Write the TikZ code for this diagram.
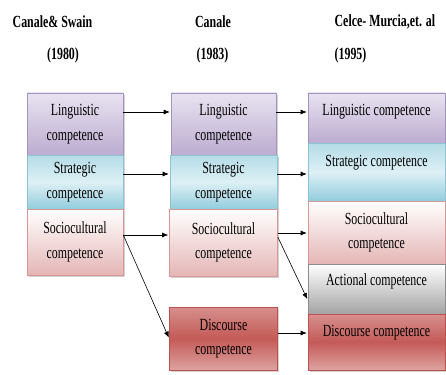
\documentclass[tikz,border=0pt]{standalone}
\usepackage{fontspec}
\setmainfont{Liberation Serif}[FakeStretch=0.7]
\usetikzlibrary{arrows.meta,positioning,shadows}

\definecolor{lingtop}{HTML}{E8E3F0}
\definecolor{lingbot}{HTML}{BCACD1}
\definecolor{lingline}{HTML}{A393BE}
\definecolor{strattop}{HTML}{B4DCE7}
\definecolor{stratmid}{HTML}{DDF0F5}
\definecolor{stratbot}{HTML}{93CDDD}
\definecolor{stratline}{HTML}{8CC4D4}
\definecolor{sociobot}{HTML}{E4B6B5}
\definecolor{socioline}{HTML}{D99694}
\definecolor{actbot}{HTML}{A3A3A3}
\definecolor{actline}{HTML}{8C8C8C}
\definecolor{disctop}{HTML}{D6908E}
\definecolor{discmid}{HTML}{C45A57}
\definecolor{discbot}{HTML}{DDA3A1}
\definecolor{discline}{HTML}{C0504D}

\tikzset{
  box/.style={draw, align=center, inner sep=3pt,
    drop shadow={shadow xshift=1.5pt, shadow yshift=-2pt, opacity=.35}},
  ling/.style={box, draw=lingline, top color=lingtop, bottom color=lingbot},
  strat/.style={box, draw=stratline, top color=strattop, bottom color=stratbot,
    middle color=stratmid},
  socio/.style={box, draw=socioline, top color=white, bottom color=sociobot},
  act/.style={box, draw=actline, top color=white, bottom color=actbot},
  disc/.style={box, draw=discline, top color=disctop, bottom color=discbot,
    middle color=discmid},
  lift/.style={text height=11.5pt, text depth=#1},
  head/.style={font=\fontsize{17}{24.5}\selectfont\bfseries}
}

\begin{document}
\begin{tikzpicture}[->,>={Latex[length=6pt,width=5pt]},shorten >=1pt,
    x=1pt,y=1pt,on grid,semithick,
    every node/.append style={font=\fontsize{17}{24.5}\selectfont}]
    \useasboundingbox (0,0) rectangle (446,-374);

    % headings
    \node[head] (auth1) at (52.5,-22)        {Canale\& Swain};
    \node[head] (year1) at (63,-55)          {(1980)};
    \node[head] (auth2) at (213,-22)         {Canale};
    \node[head] (year2) at (212.5,-55)       {(1983)};
    \node[head,anchor=west] (auth3) at (331,-22) {Celce- Murcia,et. al};
    \node[head,anchor=west] (year3) at (331,-55) {(1995)};

    % Canale & Swain (1980)
    \node[ling,minimum width=96pt,minimum height=62pt]   (ling1) at (75,-124)        {Linguistic\\competence};
    \node[strat,minimum width=96pt,minimum height=54pt]  (strat1) [below=58pt of ling1]  {Strategic\\competence};
    \node[socio,minimum width=96pt,minimum height=66pt]  (socio1) [below=60pt of strat1] {Sociocultural\\competence};

    % Canale (1983)
    \node[ling,minimum width=105pt,minimum height=62pt]  (ling2) [right=148.5pt of ling1]  {Linguistic\\competence};
    \node[strat,minimum width=107pt,minimum height=54pt] (strat2) [below=58pt of ling2]    {Strategic\\competence};
    \node[socio,minimum width=108pt,minimum height=67pt] (socio2) [below=60.5pt of strat2] {Sociocultural\\competence};
    \node[disc,minimum width=108pt,minimum height=63pt]  (disc2) [below=96pt of socio2]    {Discourse\\competence};

    % Celce-Murcia et al. (1995)
    \node[ling,lift=15.5pt,minimum width=137pt,minimum height=50pt]  (ling3) at (376.5,-118)     {Linguistic competence};
    \node[strat,lift=23.5pt,minimum width=137pt,minimum height=58pt] (strat3) [below=54pt of ling3]    {Strategic competence};
    \node[socio,minimum width=137pt,minimum height=63pt]             (socio3) [below=60.5pt of strat3] {Sociocultural\\competence};
    \node[act,lift=19.5pt,minimum width=137pt,minimum height=50pt]   (act3) [below=56.5pt of socio3]   {Actional competence};
    \node[disc,lift=23.5pt,minimum width=137pt,minimum height=56pt]  (disc3) [below=53pt of act3]      {Discourse competence};

    % connectors
    \draw ([yshift=12pt]ling1.east)  -- ([yshift=12pt]ling2.west);
    \draw ([yshift=8pt]strat1.east)  -- ([yshift=8pt]strat2.west);
    \draw ([yshift=7pt]socio1.east)  -- ([yshift=7pt]socio1.east -| socio2.west);
    \draw ([yshift=7pt]socio1.east)  -- (disc2.west);
    \draw ([yshift=12pt]ling2.east)  -- ([yshift=12pt]ling2.east -| ling3.west);
    \draw ([yshift=8pt]strat2.east)  -- ([yshift=8pt]strat2.east -| strat3.west);
    \draw ([yshift=9.5pt]socio2.east) -- ([yshift=9.5pt]socio2.east -| socio3.west);
    \draw ([yshift=5.5pt]socio2.east) -- ([yshift=-11pt]act3.west);
    \draw ([yshift=5.5pt]disc2.east) -- ([yshift=5.5pt]disc2.east -| disc3.west);
\end{tikzpicture}
\end{document}
